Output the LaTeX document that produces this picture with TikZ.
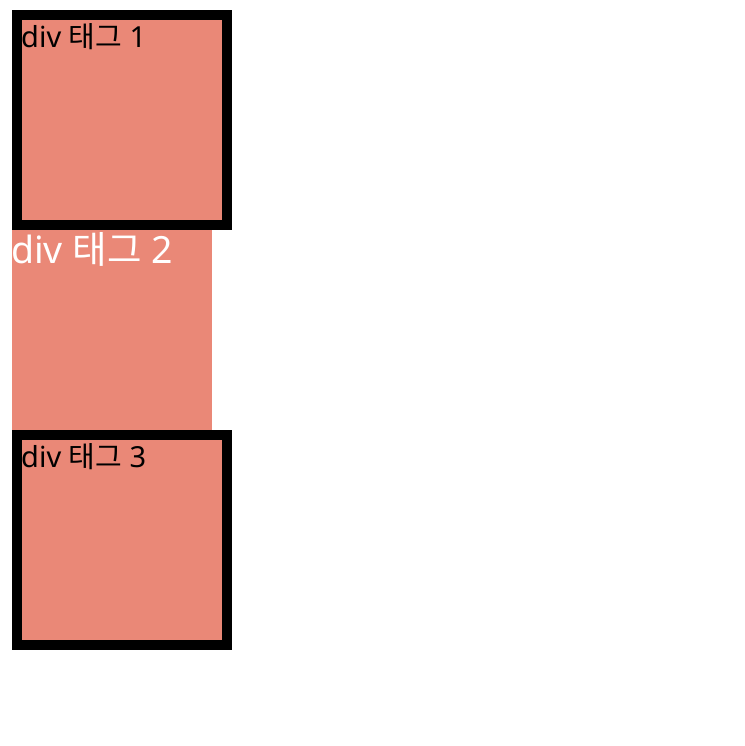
\documentclass[tikz,border=0pt]{standalone}
\usepackage{fontspec}
\setmainfont{Noto Sans}
\newfontfamily\krfont{Noto Sans CJK KR}
\definecolor{boxfill}{HTML}{EA8877}
\begin{document}
\begin{tikzpicture}[x=1pt,y=1pt,
  bordered/.style={draw=black,line width=10pt,fill=boxfill,minimum width=210pt,minimum height=210pt,inner sep=0pt},
  plain/.style={fill=boxfill,minimum width=200pt,minimum height=200pt,inner sep=0pt,outer sep=0pt},
  smalltxt/.style={anchor=base west,inner sep=0pt,font=\fontsize{29}{33}\selectfont,text=black},
  bigtxt/.style={anchor=base west,inner sep=0pt,font=\fontsize{37.5}{43}\selectfont,text=white}]
\useasboundingbox[fill=white] (0,0) rectangle (744,-746);
\node[bordered] (b1) at (122,-120) {};
\node[plain] (b2) at (112,-330) {};
\node[bordered] (b3) at (122,-540) {};
\node[smalltxt] (t1) at (21,-47.5) {div {\krfont 태그} 1};
\node[bigtxt] (t2) at (11,-263.5) {div {\krfont 태그} 2};
\node[smalltxt] (t3) at (21,-467.5) {div {\krfont 태그} 3};
\end{tikzpicture}
\end{document}
